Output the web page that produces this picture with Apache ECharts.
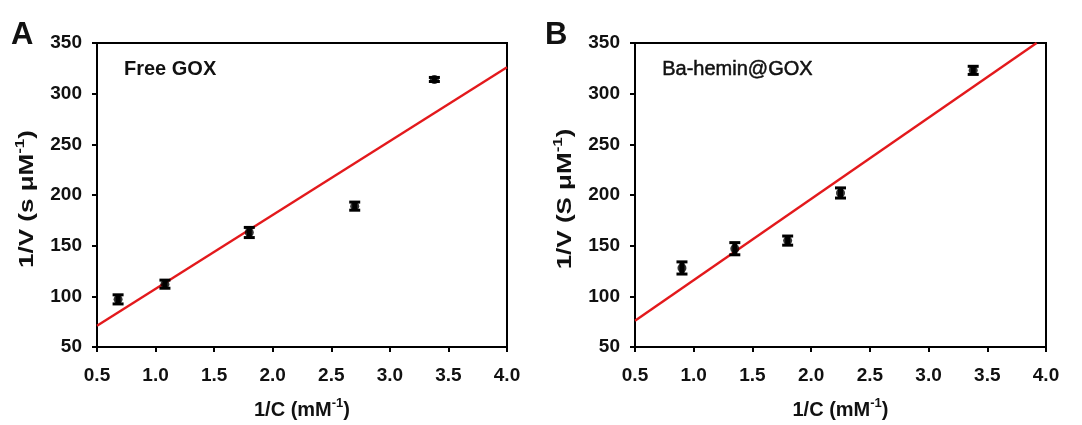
<!DOCTYPE html>
<html><head><meta charset="utf-8">
<script src="https://cdn.jsdelivr.net/npm/echarts@6/dist/echarts.min.js"></script>
<style>html,body{margin:0;padding:0;background:#fff}#c{width:1082px;height:425px}</style>
</head><body><div id="c"></div>
<script>
// Panel A: Free GOX
const xA = [0.68, 1.08, 1.80, 2.70, 3.38];
const yA = [97, 112, 163, 189, 314];
const errA = [4.5, 4, 5, 4, 2];
const fitA = [[0.5, 71], [4.0, 326]];
// Panel B: Ba-hemin@GOX
const xB = [0.90, 1.35, 1.80, 2.25, 3.38];
const yB = [128, 147, 155, 202, 323];
const errB = [6, 6, 4.5, 5, 4];
const fitB = [[0.5, 76], [3.92, 350]];
const xTicks = ['0.5','1.0','1.5','2.0','2.5','3.0','3.5','4.0'];
const yTicks = [50, 100, 150, 200, 250, 300, 350];

const font = 'Liberation Sans, Arial, sans-serif';
const txt = '#111';
const supRich = {sup:{fontFamily:font, fontWeight:'bold', fontSize:13, color:txt, padding:[0,0,13,0]}};
function xAxis(i){
  return {gridIndex:i, type:'value', min:0.5, max:4.0, interval:0.5,
    name:'1/C (mM{sup|-1})', nameLocation:'middle', nameGap:50,
    nameTextStyle:{fontFamily:font, fontWeight:'bold', fontSize:20, color:txt, rich:supRich},
    axisLine:{show:true, onZero:false, lineStyle:{color:'#000', width:2}},
    axisTick:{show:true, inside:false, length:5, lineStyle:{color:'#000', width:2}},
    axisLabel:{margin:19, fontFamily:font, fontWeight:'bold', fontSize:19, color:txt,
      formatter:v=>{const s=v.toFixed(1); return xTicks.includes(s)?s:'';}},
    splitLine:{show:false}};
}
function yAxis(i){
  return {gridIndex:i, type:'value', min:50, max:350, interval:50,
    axisLine:{show:true, onZero:false, lineStyle:{color:'#000', width:2}},
    axisTick:{show:true, inside:false, length:5, lineStyle:{color:'#000', width:2}},
    axisLabel:{margin:15, fontFamily:font, fontWeight:'bold', fontSize:19, color:txt,
      formatter:v=>yTicks.includes(v)?String(v):''},
    splitLine:{show:false}};
}
function errSeries(i, xs, ys, es){
  return {type:'custom', xAxisIndex:i, yAxisIndex:i, z:5,
    data: xs.map((x,k)=>[x, ys[k], es[k]]),
    renderItem:(params, api)=>{
      const x=api.value(0), y=api.value(1), e=api.value(2);
      const top=api.coord([x,y+e]), bot=api.coord([x,y-e]);
      const w=5.5;
      const cap={stroke:'#000', lineWidth:3};
      return {type:'group', children:[
        {type:'line', shape:{x1:top[0],y1:top[1],x2:bot[0],y2:bot[1]}, style:{stroke:'#000', lineWidth:5}},
        {type:'line', shape:{x1:top[0]-w,y1:top[1],x2:top[0]+w,y2:top[1]}, style:cap},
        {type:'line', shape:{x1:bot[0]-w,y1:bot[1],x2:bot[0]+w,y2:bot[1]}, style:cap}
      ]};
    }};
}
function ptSeries(i, xs, ys){
  return {type:'scatter', xAxisIndex:i, yAxisIndex:i, z:6, symbol:'circle', symbolSize:9,
    itemStyle:{color:'#000'}, data: xs.map((x,k)=>[x, ys[k]])};
}
function fitSeries(i, pts){
  return {type:'line', xAxisIndex:i, yAxisIndex:i, z:4, symbol:'none', data:pts,
    lineStyle:{color:'#e3191c', width:2.4}};
}
function yTitle(cx, unit){
  return {type:'text', x:cx, y:199, rotation:Math.PI/2, scaleX:1.3, z:10,
    style:{text:'1/V ('+unit+' μM{sup|-1})', align:'center', verticalAlign:'middle',
      fontFamily:font, fontWeight:'bold', fontSize:20, fill:txt, rich:supRich}};
}
const chart = echarts.init(document.getElementById('c'), null, {renderer:'canvas'});
chart.setOption({
  animation:false,
  backgroundColor:'#fff',
  grid:[
    {left:97, top:43, width:410, height:305, show:true, borderColor:'#000', borderWidth:2, backgroundColor:'transparent'},
    {left:635, top:43, width:411, height:305, show:true, borderColor:'#000', borderWidth:2, backgroundColor:'transparent'}
  ],
  xAxis:[xAxis(0), xAxis(1)],
  yAxis:[yAxis(0), yAxis(1)],
  graphic:[
    {type:'text', left:11, top:20, style:{text:'A', font:'bold 31px '+font, fill:txt}},
    {type:'text', left:545, top:20, style:{text:'B', font:'bold 31px '+font, fill:txt}},
    {type:'text', left:124, top:59, style:{text:'Free GOX', font:'bold 20px '+font, fill:txt}},
    {type:'text', left:662, top:59, style:{text:'Ba-hemin@GOX', font:'20px '+font, fill:txt, stroke:txt, lineWidth:0.5}},
    yTitle(27, 's'),
    yTitle(565, 'S')
  ],
  series:[
    fitSeries(0, fitA), errSeries(0, xA, yA, errA), ptSeries(0, xA, yA),
    fitSeries(1, fitB), errSeries(1, xB, yB, errB), ptSeries(1, xB, yB)
  ]
});
</script></body></html>
